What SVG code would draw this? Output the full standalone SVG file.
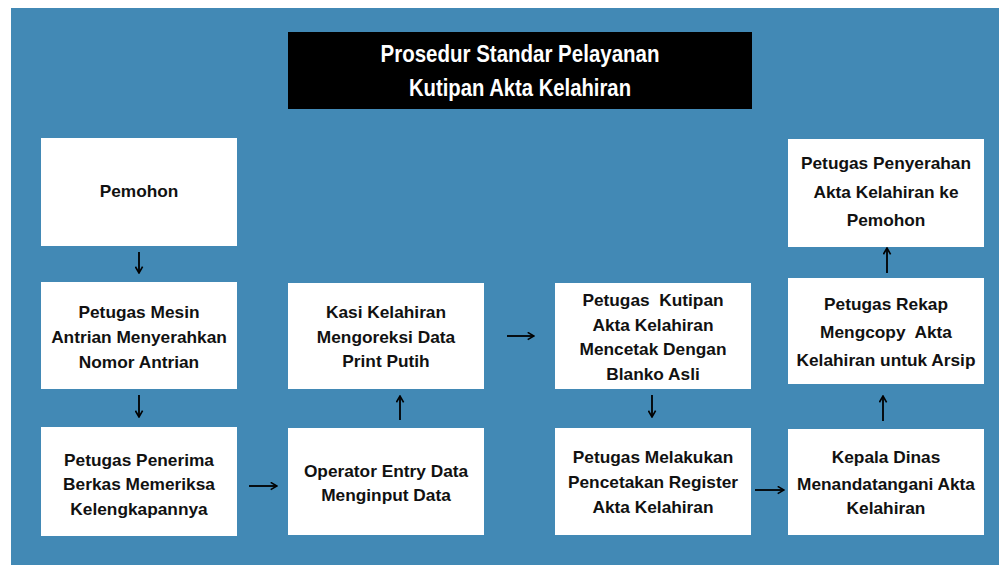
<svg xmlns="http://www.w3.org/2000/svg" width="999" height="565" viewBox="0 0 999 565">
<defs>
<style>
.box{fill:#ffffff;}
.t{font-family:"Liberation Sans",Arial,sans-serif;font-weight:bold;font-size:17.3px;fill:#111111;text-anchor:middle;white-space:pre;}
.title{font-family:"Liberation Sans",Arial,sans-serif;font-weight:bold;font-size:24px;fill:#ffffff;text-anchor:middle;}
.arr{stroke:#000000;stroke-width:1.8;fill:none;marker-end:url(#ah);}
</style>
<marker id="ah" viewBox="0 0 10 10" refX="9" refY="5" markerWidth="9" markerHeight="9" markerUnits="userSpaceOnUse" orient="auto">
<path d="M2,1 L9,5 L2,9" fill="none" stroke="#000000" stroke-width="1.8"/>
</marker>
</defs>
<rect x="0" y="0" width="999" height="565" fill="#ffffff"/>
<rect x="11" y="8" width="988" height="557" fill="#4289b5"/>

<g id="title">
<rect x="288" y="32" width="464" height="77" fill="#000000"/>
<text class="title" x="520" y="62" textLength="279" lengthAdjust="spacingAndGlyphs">Prosedur Standar Pelayanan</text>
<text class="title" x="520" y="96" textLength="222" lengthAdjust="spacingAndGlyphs">Kutipan Akta Kelahiran</text>
</g>

<g id="pemohon">
<rect class="box" x="41" y="138" width="196" height="108"/>
<text class="t" x="139" y="197">Pemohon</text>
</g>

<g id="mesin-antrian">
<rect class="box" x="41" y="282" width="196" height="107"/>
<text class="t" x="139" y="318">Petugas Mesin</text>
<text class="t" x="139" y="343">Antrian Menyerahkan</text>
<text class="t" x="139" y="368">Nomor Antrian</text>
</g>

<g id="penerima-berkas">
<rect class="box" x="41" y="427" width="196" height="109"/>
<text class="t" x="139" y="466">Petugas Penerima</text>
<text class="t" x="139" y="490">Berkas Memeriksa</text>
<text class="t" x="139" y="515">Kelengkapannya</text>
</g>

<g id="operator-entry">
<rect class="box" x="288" y="428" width="196" height="107"/>
<text class="t" x="386" y="477">Operator Entry Data</text>
<text class="t" x="386" y="501">Menginput Data</text>
</g>

<g id="kasi-kelahiran">
<rect class="box" x="288" y="283" width="196" height="106"/>
<text class="t" x="386" y="318">Kasi Kelahiran</text>
<text class="t" x="386" y="343">Mengoreksi Data</text>
<text class="t" x="386" y="367">Print Putih</text>
</g>

<g id="petugas-kutipan">
<rect class="box" x="555" y="283" width="196" height="106"/>
<text class="t" x="653" y="306">Petugas  Kutipan</text>
<text class="t" x="653" y="331">Akta Kelahiran</text>
<text class="t" x="653" y="355">Mencetak Dengan</text>
<text class="t" x="653" y="380">Blanko Asli</text>
</g>

<g id="pencetakan-register">
<rect class="box" x="555" y="428" width="196" height="107"/>
<text class="t" x="653" y="463">Petugas Melakukan</text>
<text class="t" x="653" y="488">Pencetakan Register</text>
<text class="t" x="653" y="513">Akta Kelahiran</text>
</g>

<g id="kepala-dinas">
<rect class="box" x="788" y="429" width="196" height="106"/>
<text class="t" x="886" y="463">Kepala Dinas</text>
<text class="t" x="886" y="490">Menandatangani Akta</text>
<text class="t" x="886" y="514">Kelahiran</text>
</g>

<g id="petugas-rekap">
<rect class="box" x="788" y="278" width="196" height="106"/>
<text class="t" x="886" y="310">Petugas Rekap</text>
<text class="t" x="886" y="338">Mengcopy  Akta</text>
<text class="t" x="886" y="366">Kelahiran untuk Arsip</text>
</g>

<g id="petugas-penyerahan">
<rect class="box" x="788" y="139" width="196" height="108"/>
<text class="t" x="886" y="169">Petugas Penyerahan</text>
<text class="t" x="886" y="198">Akta Kelahiran ke</text>
<text class="t" x="886" y="226">Pemohon</text>
</g>

<g id="connectors">
<line class="arr" x1="139" y1="252" x2="139" y2="273"/>
<line class="arr" x1="139" y1="395" x2="139" y2="417"/>
<line class="arr" x1="249" y1="486" x2="277" y2="486"/>
<line class="arr" x1="400" y1="420" x2="400" y2="396"/>
<line class="arr" x1="507" y1="336" x2="534" y2="336"/>
<line class="arr" x1="652" y1="395" x2="652" y2="417"/>
<line class="arr" x1="755" y1="490" x2="784" y2="490"/>
<line class="arr" x1="883" y1="421" x2="883" y2="396"/>
<line class="arr" x1="887" y1="273" x2="887" y2="248"/>
</g>
</svg>
